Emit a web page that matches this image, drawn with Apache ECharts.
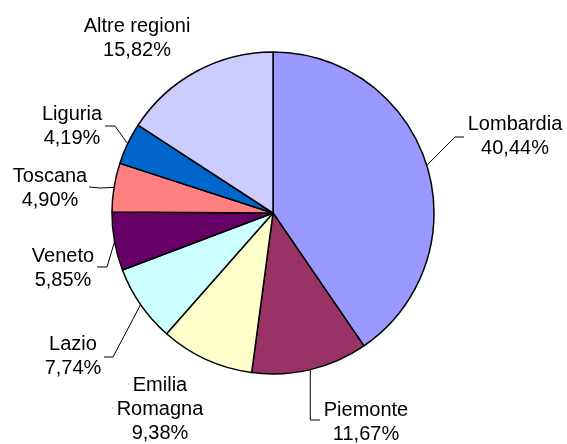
<!DOCTYPE html>
<html>
<head>
<meta charset="utf-8">
<script src="https://cdn.jsdelivr.net/npm/echarts@6/dist/echarts.min.js"></script>
<style>
  html, body { margin: 0; padding: 0; background: #fff; }
  #chart { width: 567px; height: 444px; }
</style>
</head>
<body>
<div id="chart"></div>
<script>
// Regions and their share (%)
var regions = ["Lombardia", "Piemonte", "Emilia Romagna", "Lazio", "Veneto", "Toscana", "Liguria", "Altre regioni"];
var shares = [40.44, 11.67, 9.38, 7.74, 5.85, 4.90, 4.19, 15.82];
var colors = ["#9999FF", "#993366", "#FFFFCC", "#CCFFFF", "#660066", "#FF8080", "#0066CC", "#CCCCFF"];

// where each label sits (text block centre) and the bend of its leader line
var labelPos = [[515, 136], [366, 422], [160, 409], [73, 356], [63, 268], [50, 188], [72, 126], [137, 38]];
var leaderBend = [
    [[455, 137], [464, 137]],
    [null, [320, 420]],
    null,
    [[113, 357], [104, 357]],
    [[107, 267], [97, 267]],
    [[100, 188], [89, 187]],
    [[115, 126], [105, 126]],
    null,
];

var myChart = echarts.init(document.getElementById("chart"));

var data = regions.map(function (name, i) {
    return {
        name: name,
        value: shares[i],
        itemStyle: { color: colors[i] },
        labelLine: { show: leaderBend[i] !== null },
    };
});

var option = {
    animation: false,
    series: [
        {
            type: "pie",
            center: [273, 213],
            radius: 161,
            startAngle: 90,
            clockwise: true,
            avoidLabelOverlap: false,
            itemStyle: { borderColor: "#000", borderWidth: 1.5 },
            label: {
                show: true,
                position: "outside",
                color: "#000",
                fontFamily: "Liberation Sans, Arial, sans-serif",
                fontSize: 20,
                lineHeight: 24,
                align: "center",
                formatter: function (p) {
                    return p.name.replace("Emilia ", "Emilia\n") + "\n" + p.value.toFixed(2).replace(".", ",") + "%";
                },
            },
            labelLine: {
                show: true,
                lineStyle: { color: "#000", width: 1 },
            },
            labelLayout: function (params) {
                var i = params.dataIndex;
                var out = {
                    x: labelPos[i][0],
                    y: labelPos[i][1],
                    align: "center",
                    verticalAlign: "middle",
                };
                var bend = leaderBend[i];
                if (bend && params.labelLinePoints) {
                    var start = params.labelLinePoints[0];
                    var mid = bend[0] || [start[0], bend[1][1]];
                    out.labelLinePoints = [start, mid, bend[1]];
                }
                return out;
            },
            data: data,
        },
    ],
};

myChart.setOption(option);
</script>
</body>
</html>
